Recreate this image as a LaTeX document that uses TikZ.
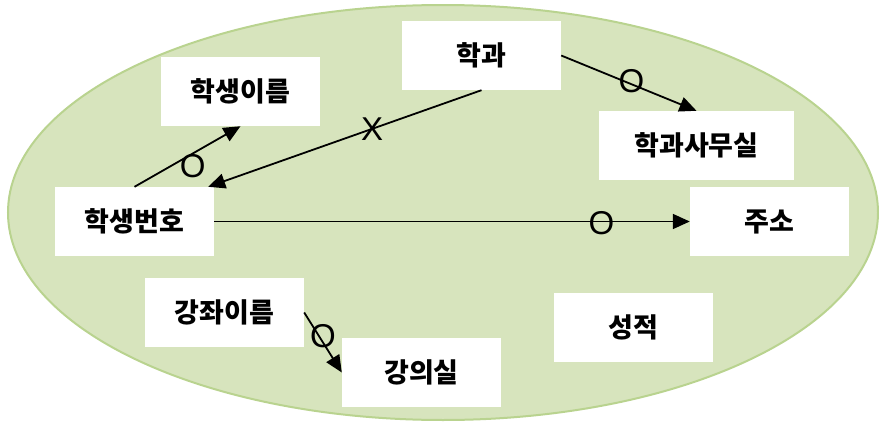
\documentclass[tikz,border=0pt]{standalone}
\usepackage{fontspec}
\usetikzlibrary{arrows.meta}
\newfontfamily\krfont{Noto Sans CJK KR}
\newfontfamily\markfont{Liberation Sans}
\definecolor{blobfill}{HTML}{D7E4BD}
\definecolor{blobline}{HTML}{B9D38F}
\tikzset{
  attr/.style={fill=white, draw=none, minimum width=159pt, minimum height=69pt,
    inner sep=0pt, font=\krfont\bfseries\fontsize{27}{30}\selectfont},
  link/.style={line width=1.8pt, -{Triangle[length=17pt,width=15pt]}},
  fdmark/.style={font=\markfont\fontsize{33}{35}\selectfont, inner sep=0pt}
}
\begin{document}
\begin{tikzpicture}[x=1pt,y=-1pt]
  \useasboundingbox (0,0) rectangle (879,423);
  % enclosing ellipse
  \fill[blobfill, draw=blobline, line width=2pt] (443,212.5) ellipse [x radius=435pt, y radius=207.5pt];

  % attribute boxes
  \node[attr] (sname)  at (240.5,91.5)  {학생이름};
  \node[attr] (dept)   at (481.5,55.5)  {학과};
  \node[attr, minimum width=195pt] (office) at (696.5,145.5) {학과사무실};
  \node[attr] (sid)    at (134.5,221.5) {학생번호};
  \node[attr] (addr)   at (769.5,221.5) {주소};
  \node[attr] (course) at (224.5,312.5) {강좌이름};
  \node[attr] (room)   at (421.5,372.5) {강의실};
  \node[attr] (grade)  at (633.5,327.5) {성적};

  % dependencies
  \draw[link] (sid.north) -- (sname.south)
    node[fdmark, pos=0.55, yshift=-12.6pt] (m1) {O};
  \draw[link] (dept.south) -- ([xshift=-6pt]sid.north east)
    node[fdmark, pos=0.4] (m2) {X};
  \draw[link] (dept.east) -- (office.north)
    node[fdmark, pos=0.52, yshift=3pt] (m3) {O};
  \draw[link] (sid.east) -- (addr.west)
    node[fdmark, pos=0.814, yshift=-1.5pt] (m4) {O};
  \draw[link] (course.east) -- (room.west)
    node[fdmark, pos=0.39, xshift=4pt] (m5) {O};
\end{tikzpicture}
\end{document}
